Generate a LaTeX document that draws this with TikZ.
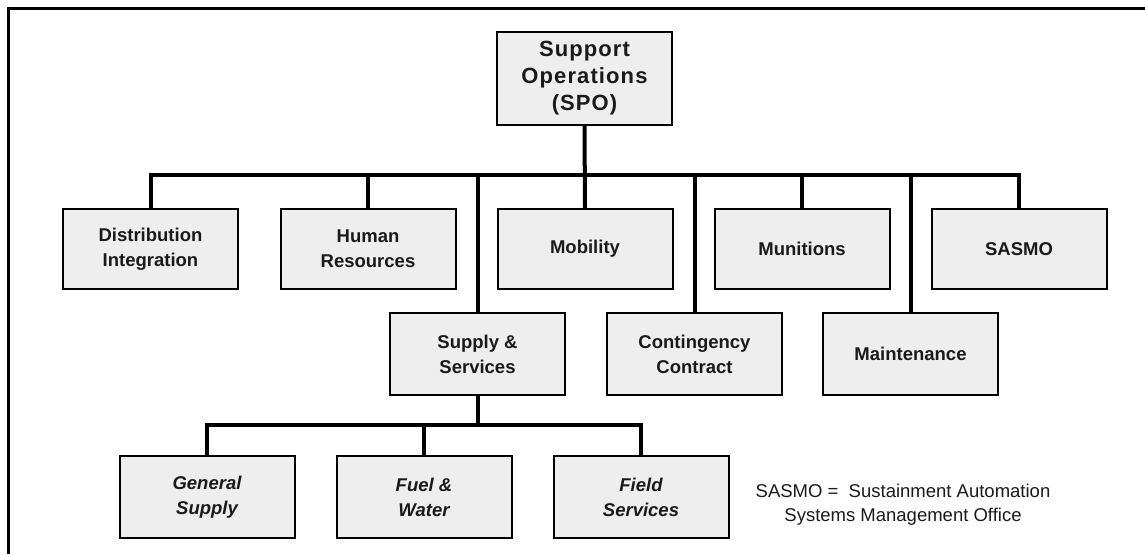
\documentclass[tikz,border=0pt]{standalone}
\usepackage{fontspec}
\setmainfont{Liberation Sans}
\newfontfamily\spofont[LetterSpace=5]{Liberation Sans}
\definecolor{boxgray}{HTML}{EEEEEE}
\definecolor{ink}{HTML}{1A1A1A}
\begin{document}
\begin{tikzpicture}[x=1pt,y=-1pt,
  unit/.style={draw=black, line width=2pt, fill=boxgray, text=ink,
    minimum width=175pt, minimum height=80pt, inner sep=0pt, align=center,
    font=\fontsize{18.5}{25}\selectfont\bfseries},
  subunit/.style={unit, font=\fontsize{18.5}{25}\selectfont\bfseries\itshape},
  conn/.style={line width=4pt, line join=miter},
  frame/.style={line width=2.2pt}]
\useasboundingbox (0,0) rectangle (1145,554);

% open frame: top and left rules
\draw[frame] (8.5,554) -- (8.5,8.5) -- (1145,8.5);

% bus lines
\coordinate (bus) at (585,175);
\coordinate (subbus) at (477.5,425);

% head office
\node[unit, minimum height=93pt,
  font=\spofont\fontsize{22}{27}\selectfont\bfseries] (spo) at (584.5,78.5)
  {Support\\Operations\\(SPO)};

% first row
\node[unit] (di)    at (150.5,249) {Distribution\\Integration};
\node[unit] (hr)    at (368,249)   {Human\\Resources};
\node[unit] (mob)   at (585,249)   {Mobility};
\node[unit] (mun)   at (802,249)   {Munitions};
\node[unit] (sasmo) at (1019,249)  {SASMO};

% second row
\node[unit, minimum height=82pt] (sup) at (477.5,354) {Supply \&\\Services};
\node[unit, minimum height=82pt] (con) at (694.5,354) {Contingency\\Contract};
\node[unit, minimum height=82pt] (mnt) at (910.5,354) {Maintenance};

% supply and services sections
\node[subunit, minimum height=82pt] (gs) at (207,497) {General\\Supply};
\node[subunit, minimum height=82pt] (fw) at (424,497) {Fuel \&\\Water};
\node[subunit, minimum height=82pt] (fs) at (641,497) {Field\\Services};

% connectors
\draw[conn] (spo.south) -- (mob.north);
\draw[conn] (di.north) |- (bus) -| (sasmo.north);
\foreach \n in {hr,mun,sup,con,mnt}
  \draw[conn] (\n.north) -- (\n.north |- bus);
\draw[conn] (sup.south) -- (subbus);
\draw[conn] (gs.north) |- (subbus) -| (fs.north);
\draw[conn] (fw.north) -- (fw.north |- subbus);

% abbreviation note
\node[align=center, text=ink, font=\fontsize{18.5}{24}\selectfont] (note) at (903,505)
  {SASMO =\ \ Sustainment Automation\\Systems Management Office};
\end{tikzpicture}
\end{document}
